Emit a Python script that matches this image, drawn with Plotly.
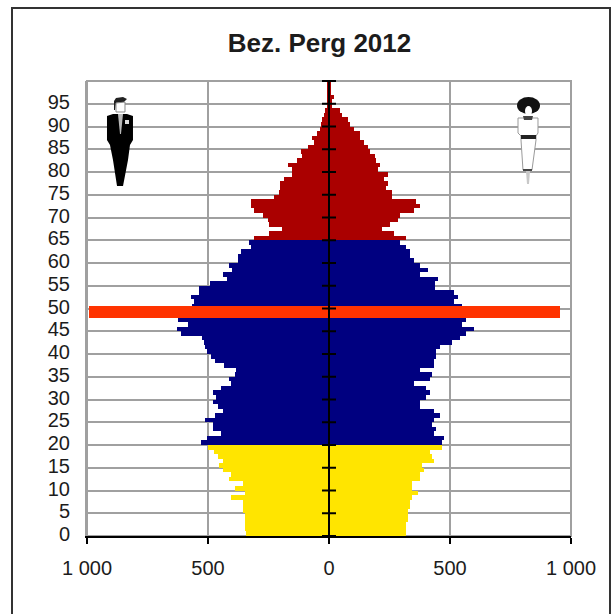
import plotly.graph_objects as go

ages = list(range(100))
men = [341,349,349,349,349,357,357,357,407,349,390,357,415,407,437,456,440,458,474,498,
       530,506,448,478,481,513,473,440,459,478,465,481,448,407,412,390,385,432,473,488,
       506,514,516,523,612,630,581,622,600,580,565,557,572,539,539,490,423,440,399,415,
       375,374,365,324,332,308,250,194,247,254,274,308,324,324,226,205,203,203,185,154,
       153,168,134,112,117,87,60,69,48,37,34,29,22,15,10,5,5,5,5,5]
women = [317,317,317,325,325,325,334,334,342,367,342,342,375,375,392,383,433,425,416,466,
         466,474,433,441,425,433,458,433,375,375,400,416,400,350,416,425,375,433,433,441,
         441,458,507,540,565,598,549,565,570,560,549,518,532,518,436,436,450,378,408,378,
         353,336,336,320,295,318,270,221,254,287,295,350,378,359,262,262,237,245,229,245,
         204,212,196,188,171,163,146,130,130,105,88,80,55,47,14,14,22,8,5,5]

age_marks = list(range(0, 105, 5))
age_labels = [str(a) if a < 100 else "" for a in age_marks]
x_marks = [-1000, -500, 0, 500, 1000]
x_labels = ["1 000", "500", "0", "500", "1 000"]
highlight_men, highlight_women = 990, 955
highlight_age, highlight_span = 49.3, 2.6

NAVY, RED, YEL, ORANGE = "#000080", "#aa0000", "#ffe500", "#ff3300"
GRID, INK = "#a0a0a0", "#1c1c1c"

def band(a):
    return YEL if a < 20 else NAVY if a < 65 else RED

W, H = 615, 614
L, R, T, B = 87, 571, 81, 536
def px(x): return (x - L) / (R - L)
def py(y): return (B - y) / (B - T)
def path(points):
    return "M" + " L".join(f"{px(x):.4f},{py(y):.4f}" for x, y in points) + " Z"

fig = go.Figure()
centers = [a + 0.5 for a in ages]
colors = [band(a) for a in ages]
fig.add_bar(y=centers, x=[-m for m in men], orientation="h", width=1.0,
            marker=dict(color=colors, line_width=0), name="Männer", showlegend=False)
fig.add_bar(y=centers, x=women, orientation="h", width=1.0,
            marker=dict(color=colors, line_width=0), name="Frauen", showlegend=False)
fig.add_bar(y=[highlight_age, highlight_age], x=[-highlight_men, highlight_women],
            orientation="h", width=highlight_span,
            marker=dict(color=ORANGE, line_width=0), showlegend=False)
fig.add_scatter(x=[0] * len(age_marks), y=age_marks, mode="lines+markers",
                line=dict(color="black", width=2),
                marker=dict(symbol="line-ew", size=10, line=dict(color="black", width=2)),
                showlegend=False, cliponaxis=False, hoverinfo="skip")

shapes = [dict(type="rect", xref="paper", yref="paper",
               x0=px(12), x1=px(610), y0=py(640), y1=py(8),
               line=dict(color="#333333", width=2), fillcolor="rgba(0,0,0,0)", layer="below"),
          dict(type="rect", xref="paper", yref="paper", x0=0, x1=1, y0=0, y1=1,
               line=dict(color=GRID, width=2), fillcolor="rgba(0,0,0,0)", layer="below")]
def blob(pts, fill, line=None, lw=0):
    shapes.append(dict(type="path", xref="paper", yref="paper", path=path(pts), fillcolor=fill,
                       line=dict(color=line or fill, width=lw), layer="above"))
def ell(x0, x1, y0, y1, fill, line=None, lw=0):
    shapes.append(dict(type="circle", xref="paper", yref="paper", x0=px(x0), x1=px(x1),
                       y0=py(y1), y1=py(y0), fillcolor=fill,
                       line=dict(color=line or fill, width=lw), layer="above"))
# man
blob([(114, 101), (116, 98), (123, 97), (127, 99), (124, 102), (116, 103), (115, 110), (114, 110)], "#222222")
blob([(116, 103), (125, 102), (125, 112), (116, 112)], "white", "#888888", 1)
blob([(107, 116), (113, 114), (127, 114), (133, 116), (133, 140), (130, 145), (128, 160),
      (123, 186), (117, 186), (113, 160), (110, 145), (107, 140)], "black")
blob([(118, 114), (123, 114), (121, 134), (120, 134)], "#b8b8b8")
blob([(125, 120), (129, 120), (129, 124), (125, 124)], "#dddddd")
# woman
ell(517, 540, 97, 114, "#111111")
ell(525, 532, 106, 116, "white")
blob([(518, 118), (538, 118), (538, 133), (536, 136), (536, 140), (532, 170), (523, 170),
      (521, 140), (521, 136), (518, 133)], "white", "#9a9a9a", 1)
blob([(521, 135), (536, 135), (536, 139), (521, 139)], "#222222")
blob([(523, 116), (533, 116), (532, 120), (524, 120)], "#444444")
blob([(523, 169), (532, 169), (532, 171), (523, 171)], "#444444")
blob([(526, 171), (530, 171), (529, 184), (527, 184)], "#c8c8c8")
fig.update_layout(shapes=shapes)

fig.update_layout(
    width=W, height=H, autosize=False,
    margin=dict(l=L, r=W - R, t=T, b=H - B, pad=0),
    barmode="overlay", bargap=0,
    paper_bgcolor="white", plot_bgcolor="white",
    font=dict(family="Liberation Sans, Arial, sans-serif", size=20, color=INK),
    title=dict(text="<b>Bez. Perg 2012</b>", x=0.5195, xanchor="center", y=0.93, yanchor="middle",
               font=dict(size=26, color=INK)),
    xaxis=dict(range=[-1000, 1000], tickvals=x_marks, ticktext=x_labels, ticks="outside",
               ticklen=6, tickwidth=2, tickcolor="black", showline=True, linecolor="black",
               linewidth=2, showgrid=True, gridcolor=GRID, gridwidth=2, zeroline=False,
               ticklabelstandoff=7, automargin=False),
    yaxis=dict(range=[0, 100], tickvals=age_marks, ticktext=age_labels, ticks="",
               showline=True, linecolor=GRID, linewidth=2, showgrid=True, gridcolor=GRID,
               gridwidth=2, zeroline=False, ticklabelstandoff=11, ticklabelshift=-2,
               automargin=False),
)
fig.write_html("out.html", post_script="document.body.style.margin='0';", config=dict(displayModeBar=False))
